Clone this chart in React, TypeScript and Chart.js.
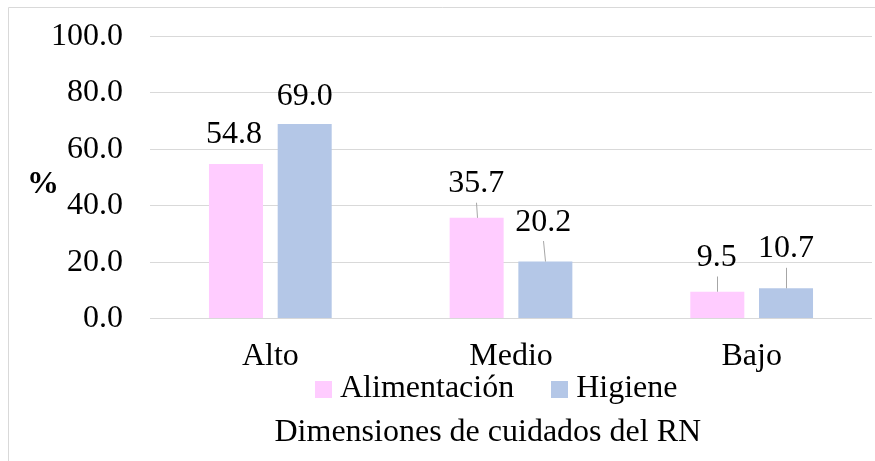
import React, { useEffect, useRef } from 'react';
import { Chart, registerables } from 'chart.js';

Chart.register(...registerables);

// ---- data ----
const categories = ['Alto', 'Medio', 'Bajo'];
const seriesNames = ['Alimentación', 'Higiene'];
const alimentacion = [54.8, 35.7, 9.5];
const higiene = [69.0, 20.2, 10.7];
const yTickValues = [0, 20, 40, 60, 80, 100];
const xTitleText = 'Dimensiones de cuidados del RN';
const yTitleText = '%';

// ---- styles ----
const FONT = "'Liberation Serif', 'Times New Roman', serif";
const FONT_SIZE = 32;
const PINK = '#FFCCFF';
const BLUE = '#B4C7E7';
const GRID = '#D9D9D9';

// label placement (style config): horizontal shift, rise of baseline above bar top, leader line
const labelStyle = {
  dx: [[-2, -0.5, -0.5], [0, -2, 0]],
  rise: [[20.5, 25.6, 25.7], [19, 31, 31]],
  leader: [[false, true, true], [false, true, true]],
};

function makeSwatch(color: string) {
  const c = document.createElement('canvas');
  c.width = 17;
  c.height = 17;
  const g = c.getContext('2d')!;
  g.fillStyle = color;
  g.fillRect(0, 0, 17, 17);
  return c;
}

const framePlugin = {
  id: 'frame',
  beforeDraw(chart: any) {
    const ctx = chart.ctx;
    ctx.save();
    ctx.strokeStyle = GRID;
    ctx.lineWidth = 1;
    ctx.beginPath();
    ctx.moveTo(8.5, chart.height + 2);
    ctx.lineTo(8.5, 7.5);
    ctx.lineTo(chart.width + 2, 7.5);
    ctx.stroke();
    ctx.restore();
  },
};

const placePlugin = {
  id: 'place',
  afterLayout(chart: any) {
    const lg = chart.legend;
    if (lg) {
      lg.left = 278;
      lg.right = chart.width;
      lg.top = 328;
      lg.bottom = 428;
    }
    const tb = chart.titleBlock;
    if (tb) {
      const h = tb.bottom - tb.top;
      tb.left = 274.5;
      tb.top = 413;
      tb.bottom = 413 + h;
    }
  },
};

const valueLabelPlugin = {
  id: 'valueLabels',
  afterDatasetsDraw(chart: any) {
    const ctx = chart.ctx;
    ctx.save();
    ctx.font = `${FONT_SIZE}px ${FONT}`;
    ctx.fillStyle = '#000';
    ctx.textAlign = 'center';
    ctx.textBaseline = 'alphabetic';
    chart.data.datasets.forEach((ds: any, di: number) => {
      const meta = chart.getDatasetMeta(di);
      meta.data.forEach((bar: any, i: number) => {
        const v = ds.data[i];
        const { x, y } = bar.getProps(['x', 'y'], true);
        const lx = x + labelStyle.dx[di][i];
        const by = y - labelStyle.rise[di][i];
        ctx.fillText(Number(v).toFixed(1), lx, by);
        if (labelStyle.leader[di][i]) {
          ctx.strokeStyle = '#A6A6A6';
          ctx.lineWidth = 1;
          ctx.beginPath();
          ctx.moveTo(Math.round(lx) + 0.5, by + 10.5);
          ctx.lineTo(Math.round(x) + 0.5, y);
          ctx.stroke();
        }
      });
    });
    ctx.restore();
  },
  afterDraw(chart: any) {
    const ctx = chart.ctx;
    ctx.save();
    ctx.font = `bold ${FONT_SIZE}px ${FONT}`;
    ctx.fillStyle = '#000';
    ctx.textAlign = 'center';
    ctx.textBaseline = 'alphabetic';
    ctx.fillText(yTitleText, 43, 193.3);
    ctx.restore();
  },
};

export default function App() {
  const ref = useRef<HTMLCanvasElement | null>(null);

  useEffect(() => {
    if (!ref.current) return;
    const swatches = [makeSwatch(PINK), makeSwatch(BLUE)];
    const chart = new Chart(ref.current, {
      type: 'bar',
      data: {
        labels: categories,
        datasets: [
          {
            label: seriesNames[0],
            data: alimentacion,
            backgroundColor: PINK,
            borderWidth: 0,
            categoryPercentage: 0.571,
            barPercentage: 0.786,
          },
          {
            label: seriesNames[1],
            data: higiene,
            backgroundColor: BLUE,
            borderWidth: 0,
            categoryPercentage: 0.571,
            barPercentage: 0.786,
          },
        ],
      },
      options: {
        responsive: false,
        animation: false,
        events: [],
        layout: { padding: { left: 0, right: 3, top: 36.5, bottom: 27.7 } },
        scales: {
          x: {
            grid: { display: false, drawTicks: false },
            border: { display: false },
            ticks: {
              padding: 18.5,
              color: '#000',
              font: { family: FONT, size: FONT_SIZE },
              maxRotation: 0,
              autoSkip: false,
            },
          },
          y: {
            min: 0,
            max: 100,
            border: { display: false },
            grid: { color: GRID, lineWidth: 1, drawTicks: false },
            ticks: {
              padding: 27,
              color: '#000',
              font: { family: FONT, size: FONT_SIZE },
              callback: (v: any) => Number(v).toFixed(1),
            },
            afterBuildTicks: (s: any) => {
              s.ticks = yTickValues.map((v) => ({ value: v }));
            },
            afterFit: (s: any) => {
              s.width = 150;
              s.paddingTop = 0;
              s.paddingBottom = 0;
            },
          },
        },
        plugins: {
          tooltip: { enabled: false },
          legend: {
            display: true,
            position: 'bottom',
            align: 'start',
            maxHeight: 1,
            labels: {
              usePointStyle: true,
              boxWidth: 1,
              padding: 45,
              color: '#000',
              font: { family: FONT, size: FONT_SIZE },
              generateLabels: () =>
                seriesNames.map((name, i) => ({
                  text: name,
                  fillStyle: i === 0 ? PINK : BLUE,
                  strokeStyle: i === 0 ? PINK : BLUE,
                  lineWidth: 0,
                  pointStyle: swatches[i],
                  hidden: false,
                  datasetIndex: i,
                  fontColor: '#000',
                })),
            },
          },
          title: {
            display: true,
            position: 'bottom',
            align: 'start',
            text: xTitleText,
            color: '#000',
            font: { family: FONT, size: FONT_SIZE, weight: 'normal' },
            padding: { top: 0, bottom: 0 },
          },
        },
      },
      plugins: [framePlugin, placePlugin, valueLabelPlugin],
    } as any);
    return () => chart.destroy();
  }, []);

  return (
    <div style={{ position: 'fixed', left: 0, top: 0, width: 875, height: 461, background: '#fff' }}>
      <canvas ref={ref} width={875} height={461} style={{ display: 'block' }} />
    </div>
  );
}
